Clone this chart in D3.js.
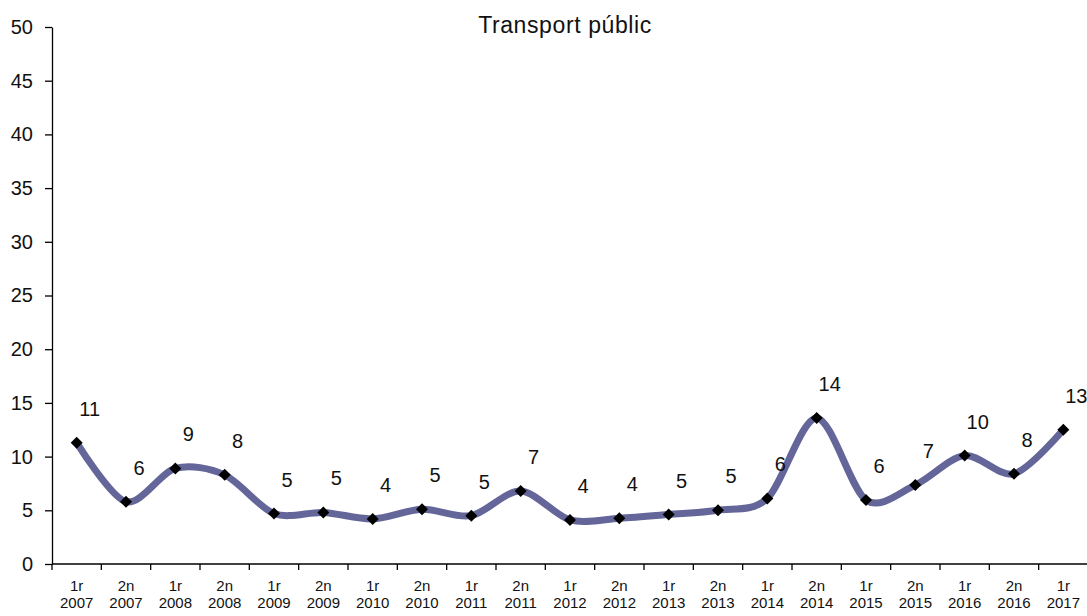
<!DOCTYPE html>
<html>
<head>
<meta charset="utf-8">
<script src="https://cdn.jsdelivr.net/npm/d3@7"></script>
<style>
  html, body { margin: 0; padding: 0; background: #fff; }
  svg { display: block; font-family: "Liberation Sans", Arial, sans-serif; }
</style>
</head>
<body>
<svg id="chart" width="1087" height="616"></svg>
<script>
const title = "Transport públic";
const halves = ["1r","2n","1r","2n","1r","2n","1r","2n","1r","2n","1r","2n","1r","2n","1r","2n","1r","2n","1r","2n","1r"];
const years = ["2007","2007","2008","2008","2009","2009","2010","2010","2011","2011","2012","2012","2013","2013","2014","2014","2015","2015","2016","2016","2017"];
const values = [11.3, 5.8, 8.9, 8.3, 4.7, 4.8, 4.2, 5.1, 4.5, 6.8, 4.1, 4.25, 4.6, 5.0, 6.1, 13.6, 5.95, 7.35, 10.1, 8.4, 12.5];
const labels = ["11","6","9","8","5","5","4","5","5","7","4","4","5","5","6","14","6","7","10","8","13"];
const yTicks = [0, 5, 10, 15, 20, 25, 30, 35, 40, 45, 50];

const cats = halves.map((h, i) => h + "|" + years[i] + "|" + i);
const data = cats.map((c, i) => ({ cat: c, half: halves[i], year: years[i], v: values[i], label: labels[i] }));

const svg = d3.select("#chart");
const left = 52;

const x = d3.scaleBand().domain(cats).range([left, 1088]).padding(0);
const y = d3.scaleLinear().domain([0, 50]).range([564, 27]);

// Title
svg.append("text")
  .attr("x", 565).attr("y", 33)
  .attr("text-anchor", "middle")
  .attr("font-size", 23)
  .attr("letter-spacing", 0.6)
  .attr("fill", "#111")
  .text(title);

// Y axis
const yAxis = svg.append("g")
  .attr("transform", `translate(${left},0)`)
  .call(d3.axisLeft(y).tickValues(yTicks).tickSize(7).tickPadding(12).tickSizeOuter(0));
yAxis.select(".domain").attr("stroke", "#000").attr("stroke-width", 1.3);
yAxis.selectAll(".tick line").attr("stroke", "#000").attr("stroke-width", 1.3);
yAxis.selectAll(".tick text")
  .attr("font-size", 20)
  .attr("fill", "#111")
  .attr("font-family", "Liberation Sans, Arial, sans-serif");

// X axis
const xAxisG = svg.append("g").attr("transform", `translate(0,${y(0)})`);
xAxisG.append("line")
  .attr("x1", left).attr("x2", 1088)
  .attr("y1", 0).attr("y2", 0)
  .attr("stroke", "#000").attr("stroke-width", 1.3);
const boundaries = cats.map(c => x(c)).concat([x(cats[cats.length - 1]) + x.bandwidth()]);
xAxisG.selectAll("line.tk").data(boundaries).join("line")
  .attr("class", "tk")
  .attr("x1", d => d).attr("x2", d => d)
  .attr("y1", 0).attr("y2", 6)
  .attr("stroke", "#000").attr("stroke-width", 1.3);
const cx = d => x(d.cat) + x.bandwidth() / 2;
xAxisG.selectAll("text.xh").data(data).join("text")
  .attr("class", "xh")
  .attr("text-anchor", "middle")
  .attr("font-size", 15)
  .attr("fill", "#111")
  .attr("x", cx).attr("y", 27)
  .text(d => d.half);
xAxisG.selectAll("text.xy").data(data).join("text")
  .attr("class", "xy")
  .attr("text-anchor", "middle")
  .attr("font-size", 15)
  .attr("fill", "#111")
  .attr("x", cx).attr("y", 44)
  .text(d => d.year);

// Line
const line = d3.line()
  .x(cx)
  .y(d => y(d.v))
  .curve(d3.curveCardinal.tension(0.1));
svg.append("path")
  .datum(data)
  .attr("d", line)
  .attr("fill", "none")
  .attr("stroke", "#646699")
  .attr("stroke-width", 7)
  .attr("stroke-linecap", "round");

// Markers
const sym = d3.symbol().type(d3.symbolSquare).size(72);
svg.selectAll("path.mk").data(data).join("path")
  .attr("class", "mk")
  .attr("d", sym)
  .attr("fill", "#000")
  .attr("transform", d => `translate(${cx(d)},${y(d.v)}) rotate(45)`);

// Data labels
svg.selectAll("text.dl").data(data).join("text")
  .attr("class", "dl")
  .attr("x", d => cx(d) + 13)
  .attr("y", d => y(d.v) - 27)
  .attr("text-anchor", "middle")
  .attr("font-size", 20)
  .attr("fill", "#111")
  .text(d => d.label);
</script>
</body>
</html>
